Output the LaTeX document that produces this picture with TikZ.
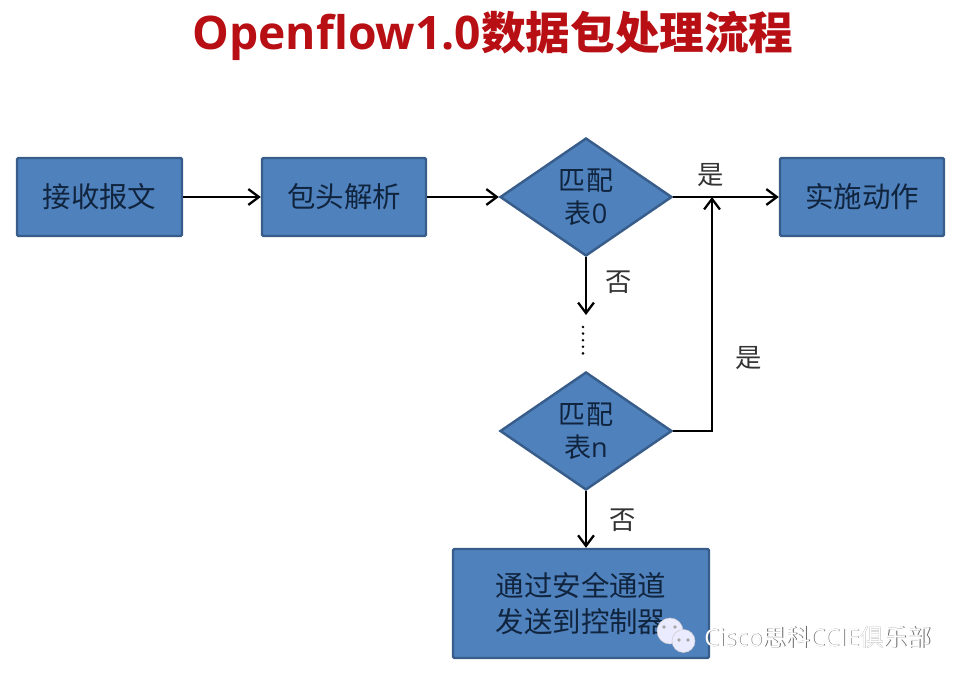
\documentclass[tikz,border=0pt]{standalone}
\usepackage{fontspec}
\setmainfont{Open Sans}
\newfontfamily\cjk{Noto Sans CJK SC}
\newfontfamily\cjkb{Noto Sans CJK SC Bold}
\usetikzlibrary{shapes.geometric,arrows.meta}
\definecolor{boxfill}{HTML}{4F81BD}
\definecolor{boxline}{HTML}{385D8A}
\definecolor{boxtext}{HTML}{10243E}
\definecolor{titlered}{HTML}{B70F14}
\tikzset{
  flowbox/.style={draw=boxline,fill=boxfill,line width=1.4pt,text=boxtext,rounded corners=0.8pt,
    inner sep=0pt,align=center,font=\fontsize{16.2}{20.4}\selectfont\cjk},
  flowdiamond/.style={diamond,draw=boxline,fill=boxfill,line width=1.4pt,text=boxtext,inner sep=0pt,
    minimum width=172*0.02cm,minimum height=118*0.02cm,aspect=1.46,align=center,
    font=\fontsize{15.4}{18.7}\selectfont\cjk},
  flowarrow/.style={draw=black,line width=1.3pt,-{Straight Barb[length=6pt,width=9pt]}},
  flowlabel/.style={inner sep=0pt,text=black!80,font=\fontsize{15}{18}\selectfont\cjk},
  bubble/.style={circle,fill=white!92!blue,draw=gray!40,line width=0.3pt,inner sep=0pt},
}
\begin{document}
\begin{tikzpicture}[x=0.02cm,y=-0.02cm]
\useasboundingbox (0,0) rectangle (966,680);
\node[inner sep=0pt,text=titlered,font=\fontsize{26.3}{30}\selectfont] (title) at (493,36)
  {\bfseries Openflow1.0\fontsize{25.4}{30}\selectfont\cjkb 数据包处理流程};
\node[flowbox,minimum width=165*0.02cm,minimum height=78*0.02cm] (recv) at (99.5,197) {接收报文};
\node[flowbox,minimum width=164*0.02cm,minimum height=78*0.02cm] (parse) at (344,197) {包头解析};
\node[flowdiamond] (table0) at (586,197) {匹配\\表{\rmfamily 0}};
\node[flowbox,minimum width=164*0.02cm,minimum height=78*0.02cm] (action) at (862,197) {实施动作};
\node[flowdiamond] (tablen) at (586,431) {匹配\\表{\rmfamily n}};
\node[flowbox,minimum width=256*0.02cm,minimum height=109*0.02cm] (send) at (581,603.5) {通过安全通道\\发送到控制器};
\coordinate (dotstop) at (586,315);
\coordinate (dots1) at (583,327);
\coordinate (dots2) at (583,355);
\coordinate (corner) at (712,431);
\coordinate (joint) at (712,197);
\draw[flowarrow] (recv) -- (parse);
\draw[flowarrow] (parse) -- (table0);
\draw[flowarrow] (table0) -- (action);
\draw[flowarrow] (table0) -- (dotstop);
\draw[black,line width=1.6pt,line cap=round,dash pattern=on 0pt off 3.75pt] (dots1) -- (dots2);
\draw[flowarrow] (tablen) -- (corner) -- (joint);
\draw[flowarrow] (tablen) -- (tablen |- send.north);
\node[flowlabel] (yes0) at (711,175) {是};
\node[flowlabel] (no0) at (619,282) {否};
\node[flowlabel] (yesn) at (749,358) {是};
\node[flowlabel] (non) at (623,520) {否};
\node[bubble,minimum size=26*0.02cm] (chat1) at (670,631) {};
\node[bubble,minimum size=23*0.02cm] (chat2) at (683.5,641) {};
\fill[gray!70] (664,627) circle (1.8) (675,627) circle (1.8) (679,640) circle (1.8) (688,640) circle (1.8);
\node[inner sep=0pt,anchor=west,text=gray!80!black,font=\fontsize{13.6}{15}\selectfont] (markback) at (704.6,637.6)
  {Cisco\cjk 思科\rmfamily CCIE\cjk 俱乐部};
\node[inner sep=0pt,anchor=west,text=white,font=\fontsize{13.6}{15}\selectfont] (mark) at (704,637)
  {Cisco\cjk 思科\rmfamily CCIE\cjk 俱乐部};
\end{tikzpicture}
\end{document}
